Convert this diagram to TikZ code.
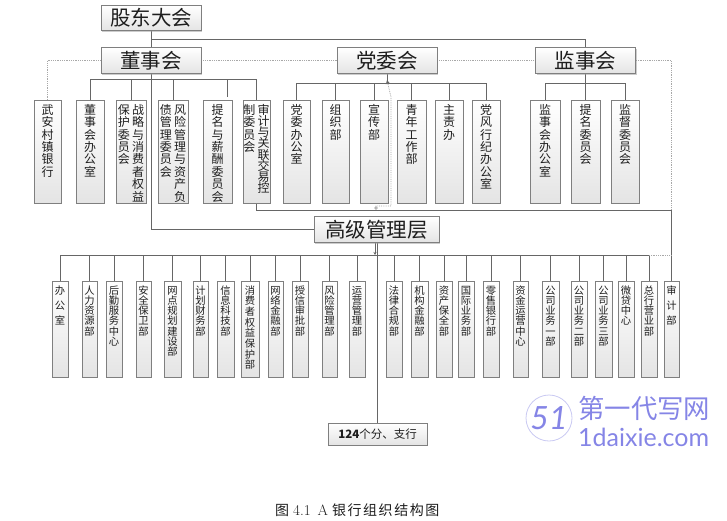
\documentclass[tikz,border=0pt]{standalone}
\usepackage{fontspec}
\usetikzlibrary{arrows.meta, backgrounds, shadows}
\newfontfamily\cjk{Noto Sans CJK SC}
\newfontfamily\capfont[LetterSpace=11]{Noto Sans CJK SC}
\newfontfamily\wmfont{Lato}
\definecolor{bankLine}{HTML}{666666}
\definecolor{bankEdge}{HTML}{7f7f7f}
\definecolor{bankShade}{HTML}{e4e4e4}
\definecolor{bankInk}{HTML}{1e1e1e}
\definecolor{bankDot}{HTML}{a8a8a8}
\definecolor{bankMark}{HTML}{8585e6}
\definecolor{bankPale}{HTML}{c9c9f2}
\makeatletter
\newcommand{\vcol}[2]{\vtop{\offinterlineskip\@tfor\vchar:=#2\do{\hbox to 1em{\vrule height#1 width0pt\hss\smash{\vchar}\hss}}}}
\makeatother
\newcommand{\vup}[2][12.4pt]{\vbox to 103pt{\kern\dimexpr14.3pt-#1\relax\hbox{\vcol{#1}{#2}}\vss}}
\newcommand{\vuptwo}[3][12.4pt]{\vbox to 103pt{\kern1.9pt\hbox{\vcol{12.4pt}{#3}\kern2.4pt\vcol{#1}{#2}}\vss}}
\newcommand{\vlow}[2][10.3pt]{\vbox to 96pt{\kern\dimexpr13pt-#1\relax\hbox{\vcol{#1}{#2}}\vss}}

\begin{document}
\begin{tikzpicture}[x=1pt, y=-1pt,
        frame/.style={draw=bankEdge, line width=0.9pt, top color=white, bottom color=bankShade, text=bankInk,
                    inner sep=0pt, drop shadow={shadow xshift=1.3pt, shadow yshift=-1.3pt, fill=black!40}},
        board/.style={frame, minimum width=100pt, minimum height=25.5pt, font=\cjk\fontsize{20.5pt}{22pt}\selectfont},
        upbox/.style={frame, minimum height=103pt, font=\cjk\fontsize{12pt}{12pt}\selectfont},
        lowbox/.style={frame, minimum height=96pt, font=\cjk\fontsize{10.3pt}{10.3pt}\selectfont},
        rama/.style={bankLine, line width=1pt},
        dots/.style={bankDot, line width=0.8pt, densely dotted}]
        \useasboundingbox (0,0) rectangle (727,520);
        % top level
        \node[board] (gd) at (151,18) {股东大会};
        \node[board] (ds) at (151,60.5) {董事会};
        \node[board] (dw) at (387,60.5) {党委会};
        \node[board] (js) at (585.5,60.5) {监事会};
        \node[board, minimum width=125pt] (gg) at (376.5,229.5) {高级管理层};
        % upper row
        \node[upbox, minimum width=27pt] (u1) at (47.5,151.5) {\vup{武安村镇银行}};
        \node[upbox, minimum width=28pt] (u2) at (90,151.5) {\vup{董事会办公室}};
        \node[upbox, minimum width=30pt] (u3) at (131,151.5) {\vuptwo{战略与消费者权益}{保护委员会}};
        \node[upbox, minimum width=30pt] (u4) at (173,151.5) {\vuptwo{风险管理与资产负}{债管理委员会}};
        \node[upbox, minimum width=29pt] (u5) at (217.5,151.5) {\vup{提名与薪酬委员会}};
        \node[upbox, minimum width=27pt] (u6) at (256.5,151.5) {\vuptwo[11.2pt]{审计与关联交易控}{制委员会}};
        \node[upbox, minimum width=27pt] (p1) at (296.5,151.5) {\vup{党委办公室}};
        \node[upbox, minimum width=27pt] (p2) at (335.5,151.5) {\vup{组织部}};
        \node[upbox, minimum width=28pt] (p3) at (374,151.5) {\vup{宣传部}};
        \node[upbox, minimum width=29pt] (p4) at (411.5,151.5) {\vup{青年工作部}};
        \node[upbox, minimum width=28pt] (p5) at (449,151.5) {\vup{主责办}};
        \node[upbox, minimum width=28pt] (p6) at (486,151.5) {\vup{党风行纪办公室}};
        \node[upbox, minimum width=30pt] (j1) at (545,151.5) {\vup{监事会办公室}};
        \node[upbox, minimum width=29pt] (j2) at (585.5,151.5) {\vup{提名委员会}};
        \node[upbox, minimum width=28pt] (j3) at (625,151.5) {\vup{监督委员会}};
        % lower row
        \node[lowbox, minimum width=16pt] (l1) at (60,329) {\vlow[15pt]{办公室}};
        \node[lowbox, minimum width=15pt] (l2) at (89.5,329) {\vlow{人力资源部}};
        \node[lowbox, minimum width=16pt] (l3) at (114,329) {\vlow{后勤服务中心}};
        \node[lowbox, minimum width=15pt] (l4) at (143.5,329) {\vlow{安全保卫部}};
        \node[lowbox, minimum width=17pt] (l5) at (172.5,329) {\vlow{网点规划建设部}};
        \node[lowbox, minimum width=15pt] (l6) at (200.5,329) {\vlow{计划财务部}};
        \node[lowbox, minimum width=17pt] (l7) at (225.5,329) {\vlow{信息科技部}};
        \node[lowbox, minimum width=18pt] (l8) at (250,329) {\vlow[10.7pt]{消费者权益保护部}};
        \node[lowbox, minimum width=15pt] (l9) at (275.5,329) {\vlow{网络金融部}};
        \node[lowbox, minimum width=16pt] (l10) at (300,329) {\vlow{授信审批部}};
        \node[lowbox, minimum width=15pt] (l11) at (329.5,329) {\vlow{风险管理部}};
        \node[lowbox, minimum width=16pt] (l12) at (357,329) {\vlow{运营管理部}};
        \node[lowbox, minimum width=16pt] (l13) at (394,329) {\vlow{法律合规部}};
        \node[lowbox, minimum width=17pt] (l14) at (419.5,329) {\vlow{机构金融部}};
        \node[lowbox, minimum width=16pt] (l15) at (444,329) {\vlow{资产保全部}};
        \node[lowbox, minimum width=16pt] (l16) at (466,329) {\vlow{国际业务部}};
        \node[lowbox, minimum width=16pt] (l17) at (491,329) {\vlow{零售银行部}};
        \node[lowbox, minimum width=15pt] (l18) at (520.5,329) {\vlow{资金运营中心}};
        \node[lowbox, minimum width=17pt] (l19) at (550.5,329) {\vlow{公司业务一部}};
        \node[lowbox, minimum width=16pt] (l20) at (579,329) {\vlow{公司业务二部}};
        \node[lowbox, minimum width=17pt] (l21) at (603.5,329) {\vlow{公司业务三部}};
        \node[lowbox, minimum width=16pt] (l22) at (626,329) {\vlow{微贷中心}};
        \node[lowbox, minimum width=16pt] (l23) at (649,329) {\vlow{总行营业部}};
        \node[lowbox, minimum width=15pt] (l24) at (671.5,329) {\vlow[15pt]{审计部}};
        \node[frame, minimum width=99pt, minimum height=22pt, font=\cjk\fontsize{11.5pt}{12pt}\selectfont] (fh) at (377.5,434) {\textbf{124}个分、支行};
        % bus points
        \coordinate (tbus) at (151,39);
        \coordinate (dbus) at (151,79);
        \coordinate (t5) at (227,97);
        \coordinate (pbus) at (387,83);
        \coordinate (jbus) at (585.5,83);
        \coordinate (lbus) at (376.5,255);
        \coordinate (abus) at (671.5,210);
        \coordinate (ptip) at (387,80);
        \begin{scope}[on background layer]
          \draw[rama] (gd.south) |- (gg.west);
          \draw[rama] (tbus) -| (j2.north);
          \foreach \m in {u2,u3,u4,u6} \draw[rama] (dbus) -| (\m.north);
          \draw[rama] (dbus) -| (t5);
          \draw[rama] (dw.south) -- (pbus);
          \foreach \m in {p1,p2,p3,p4,p5,p6} \draw[rama] (pbus) -| (\m.north);
          \foreach \m in {j1,j3} \draw[rama] (jbus) -| (\m.north);
          \foreach \m in {l1,l2,l3,l4,l5,l6,l7,l8,l9,l10,l11,l12,l13,l14,l15,l16,l17,l18,l19,l20,l21,l22,l23} \draw[rama] (lbus) -| (\m.north);
          \draw[rama, -{Stealth[length=3pt, width=3pt]}] ([xshift=-1.5pt]gg.south) -- ([xshift=-1.5pt]lbus);
          \draw[rama] (gg.south -| fh.north) -- (fh.north);
          \draw[rama] (u6.south) |- (abus) -- (l24.north);
          \draw[dots] (ds.west) -| (u1.north);
          \draw[dots] (ds.east) -- (dw.west);
          \draw[dots] (dw.east) -- (js.west);
          \draw[dots] (js.east) -| (abus);
          \draw[dots] (lbus -| l23.north) -- (lbus -| l24.north);
          \draw[dots, {Stealth[length=4pt, width=4pt, bankLine]}-{Diamond[open, length=4pt, width=3.5pt]}] (ptip) -- (391,97) -- (391,206) -- (376,206) -- (376,210);
        \end{scope}
        % caption and mark
        \node[font=\capfont\fontsize{14pt}{14pt}\selectfont, text=bankInk, anchor=west, inner sep=0pt] (cap) at (275,510) {图\hspace{4pt}{\rmfamily\fontsize{15pt}{15pt}\selectfont 4.1\hspace{7pt}A}\hspace{4pt}银行组织结构图};
        \node[circle, draw=bankPale, line width=0.8pt, minimum size=46pt, inner sep=0pt, text=bankMark, font=\wmfont\itshape\fontsize{32pt}{32pt}\selectfont] (logo) at (549,418) {51};
        \node[text=bankMark, font=\cjk\fontsize{26.4pt}{26pt}\selectfont, anchor=west, inner sep=0pt] (wm1) at (578,408) {第一代写网};
        \node[text=bankMark, font=\wmfont\fontsize{25pt}{25pt}\selectfont, anchor=west, inner sep=0pt] (wm2) at (578,437) {1daixie.com};
      \end{tikzpicture}
\end{document}
